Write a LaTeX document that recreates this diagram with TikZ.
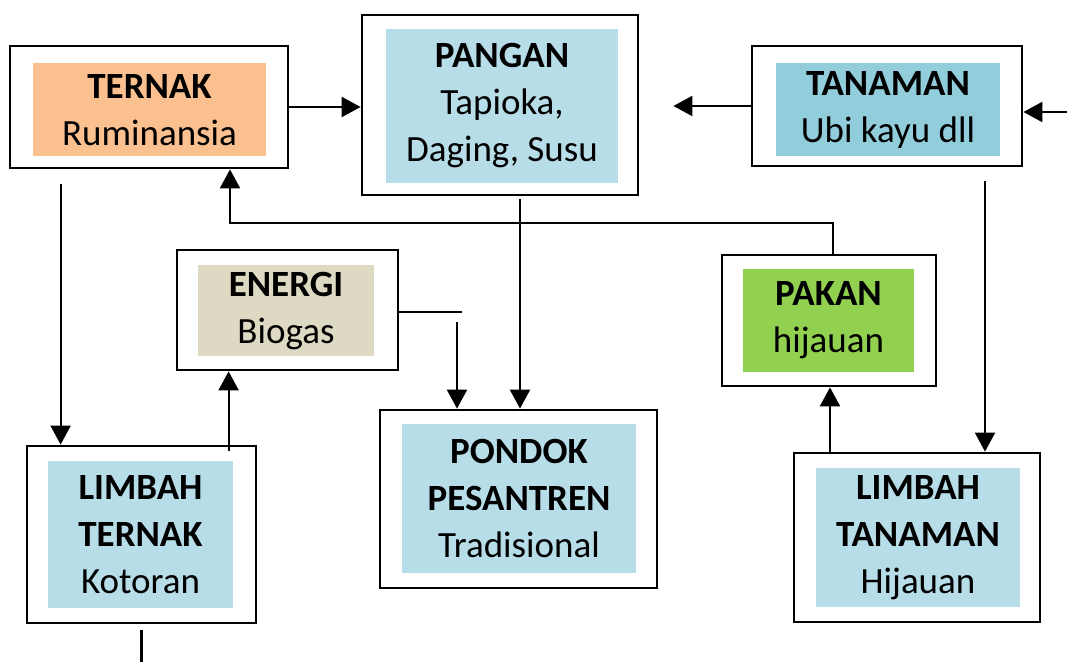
\documentclass[tikz,border=0pt]{standalone}
\usepackage{fontspec}
\setmainfont{Carlito}
\usetikzlibrary{arrows.meta}
\definecolor{oranye}{HTML}{FAC090}
\definecolor{biru}{HTML}{B7DDE8}
\definecolor{birutua}{HTML}{92CDDC}
\definecolor{krem}{HTML}{DDD9C3}
\definecolor{hijau}{HTML}{92D050}
\begin{document}
\begin{tikzpicture}[x=.5pt,y=-.5pt,line width=1.1pt,
  luar/.style={draw,line width=1.4pt,inner sep=0pt},
  isi/.style={inner sep=0pt,align=center,font=\fontsize{18.5}{23.5}\selectfont},
  panah/.style={-{Triangle[length=9.5pt,width=10pt]}}]
  \path[use as bounding box] (0,0) rectangle (1067,662);
  % kotak luar
  \node[luar,minimum width=139pt,minimum height=61pt] (ternak) at (149,107) {};
  \node[luar,minimum width=138pt,minimum height=90pt] (pangan) at (500,105) {};
  \node[luar,minimum width=135pt,minimum height=60pt] (tanaman) at (887,106) {};
  \node[luar,minimum width=110.5pt,minimum height=60pt] (energi) at (287.5,310) {};
  \node[luar,minimum width=107pt,minimum height=65.5pt] (pakan) at (829,320.5) {};
  \node[luar,minimum width=114.5pt,minimum height=88.5pt] (limbahternak) at (141.5,534.5) {};
  \node[luar,minimum width=138.5pt,minimum height=89pt] (pondok) at (518.5,499) {};
  \node[luar,minimum width=123pt,minimum height=84.5pt] (limbahtanaman) at (917,537.5) {};
  % kotak isi
  \node[isi,fill=oranye,minimum width=116.5pt,minimum height=46.5pt] (ternakisi) at (149.5,110) {\textbf{TERNAK}\\Ruminansia};
  \node[isi,fill=biru,minimum width=116pt,minimum height=77pt] (panganisi) at (502,106) {\textbf{PANGAN}\\Tapioka,\\Daging, Susu};
  \node[isi,fill=birutua,minimum width=112pt,minimum height=46.5pt] (tanamanisi) at (888,110) {\textbf{TANAMAN}\\Ubi kayu dll};
  \node[isi,fill=krem,minimum width=88pt,minimum height=45.5pt] (energiisi) at (286,311) {\textbf{ENERGI}\\Biogas};
  \node[isi,fill=hijau,minimum width=85.5pt,minimum height=51.5pt] (pakanisi) at (828.5,320.5) {\textbf{PAKAN}\\hijauan};
  \node[isi,fill=biru,minimum width=92.5pt,minimum height=73.5pt] (limbahternakisi) at (140.5,535) {\textbf{LIMBAH}\\\textbf{TERNAK}\\Kotoran};
  \node[isi,fill=biru,minimum width=117pt,minimum height=74.5pt] (pondokisi) at (519,498.5) {\textbf{PONDOK}\\\textbf{PESANTREN}\\Tradisional};
  \node[isi,fill=biru,minimum width=102pt,minimum height=69.5pt] (limbahtanamanisi) at (918,537.5) {\textbf{LIMBAH}\\\textbf{TANAMAN}\\Hijauan};
  % titik bebas
  \coordinate (masuk) at (1067,112);
  \coordinate (keluar) at (141.5,662);
  \coordinate (belok) at (462,312);
  \coordinate (turun) at (457,322);
  % panah
  \draw[panah] (ternak.east) -- (ternak.east -| pangan.west);
  \draw[panah,shorten >=17pt] (tanaman.west) -- (tanaman.west -| pangan.east);
  \draw[panah] (masuk) -- (masuk -| tanaman.east);
  \draw[panah] ([xshift=26pt,yshift=-7.5pt]ternak.south west) -- ([xshift=17.5pt]limbahternak.north west);
  \draw[panah] ([xshift=101.5pt,yshift=-3pt]limbahternak.north west) -- ([xshift=101.5pt]limbahternak.north west |- energi.south);
  \draw ([yshift=-3pt]limbahternak.south) -- (keluar);
  \draw (energi.east |- belok) -- (belok);
  \draw[panah] (turun) -- (turun |- pondok.north);
  \draw[panah] ([xshift=10pt,yshift=-1.5pt]pangan.south) -- ([xshift=10pt]pangan.south |- pondok.north);
  \draw[panah] ([xshift=2pt]pakan.north) |- ([xshift=40.5pt,yshift=-27pt]ternak.south) -- ([xshift=40.5pt]ternak.south);
  \draw[panah] ([xshift=49pt,yshift=-7pt]tanaman.south) -- ([xshift=49pt]tanaman.south |- limbahtanaman.north);
  \draw[panah] ([xshift=-43.5pt]limbahtanaman.north) -- ([xshift=-43.5pt]limbahtanaman.north |- pakan.south);
\end{tikzpicture}
\end{document}
